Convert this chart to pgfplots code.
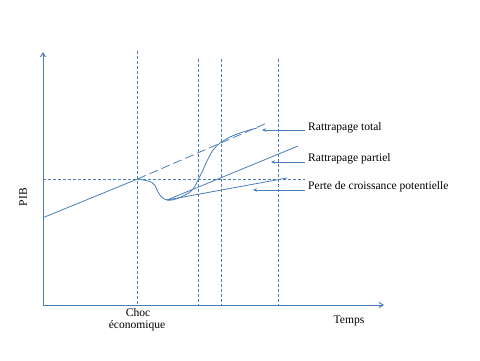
\documentclass[border=0pt]{standalone}
\usepackage{pgfplots}
\pgfplotsset{compat=1.18}
\usepackage{fontspec}
\setmainfont{Liberation Serif}
\usetikzlibrary{arrows.meta}
\definecolor{lb}{HTML}{4A7EBB}
\begin{document}
\begin{tikzpicture}[lbl/.style={inner sep=0pt, font=\fontsize{11.6}{13}\selectfont}]
\begin{axis}[
  scale only axis, width=480bp, height=360bp,
  xmin=0, xmax=480, ymin=0, ymax=360, y dir=reverse,
  hide axis, clip=false,
  cycle list={{lb,solid,mark=none}},
  every axis plot/.append style={line width=0.8bp, color=lb, mark=none},
]
\addplot[draw=none] coordinates {(0,0) (480,360)};
% axes
\addplot[line width=1bp, -{Straight Barb[length=4bp,width=5bp]}] coordinates {(43,305) (43,52)};
\addplot[line width=1bp, -{Straight Barb[length=4bp,width=5bp]}] coordinates {(43,305) (384,305)};
% vertical dashed lines
\addplot[dash pattern=on 3bp off 2bp] coordinates {(137.5,51) (137.5,305)};
\addplot[dash pattern=on 3bp off 2bp] coordinates {(198.5,59) (198.5,305)};
\addplot[dash pattern=on 3bp off 2bp] coordinates {(221.3,59) (221.3,305)};
\addplot[dash pattern=on 3bp off 2bp] coordinates {(278.5,59) (278.5,305)};
% horizontal dashed line
\addplot[dash pattern=on 3bp off 2bp] coordinates {(43,179) (305,179)};
% trend line
\addplot[solid] coordinates {(43,217.7) (137.5,179)};
\addplot[dash pattern=on 9bp off 4bp] coordinates {(137.5,179) (267,123)};
% shock curve
\addplot[smooth, tension=0.5] coordinates {
 (137.5,179) (146,180.5) (152,182.5) (155,185.5) (158,192) (162,197.5) (167,200) (172,200)
 (180,197.5) (190,192) (195,186) (198,180) (203,170) (207,161) (213,150)
 (220,143) (230,137) (240,133) (248,130.5) (257,128)};
% catch-up lines
\addplot[solid] coordinates {(167,200) (298,146)};
\addplot[solid] coordinates {(167,200) (287,178)};
% label arrows
\addplot[-{Stealth[length=4bp,width=3.5bp]}] coordinates {(305,130) (262,130)};
\addplot[-{Stealth[length=4bp,width=3.5bp]}] coordinates {(305,162) (271,162)};
\addplot[-{Stealth[length=4bp,width=3.5bp]}] coordinates {(305,190) (253,190)};
% labels
\node[lbl, anchor=west] at (axis cs:308,128) {Rattrapage total};
\node[lbl, anchor=west] at (axis cs:308,158.5) {Rattrapage partiel};
\node[lbl, anchor=west] at (axis cs:308,187) {Perte de croissance potentielle};
\node[lbl, rotate=90] at (axis cs:23,197) {PIB};
\node[lbl] at (axis cs:138,313) {Choc};
\node[lbl] at (axis cs:137,325.5) {économique};
\node[lbl] at (axis cs:349,321) {Temps};
\end{axis}
\end{tikzpicture}
\end{document}
